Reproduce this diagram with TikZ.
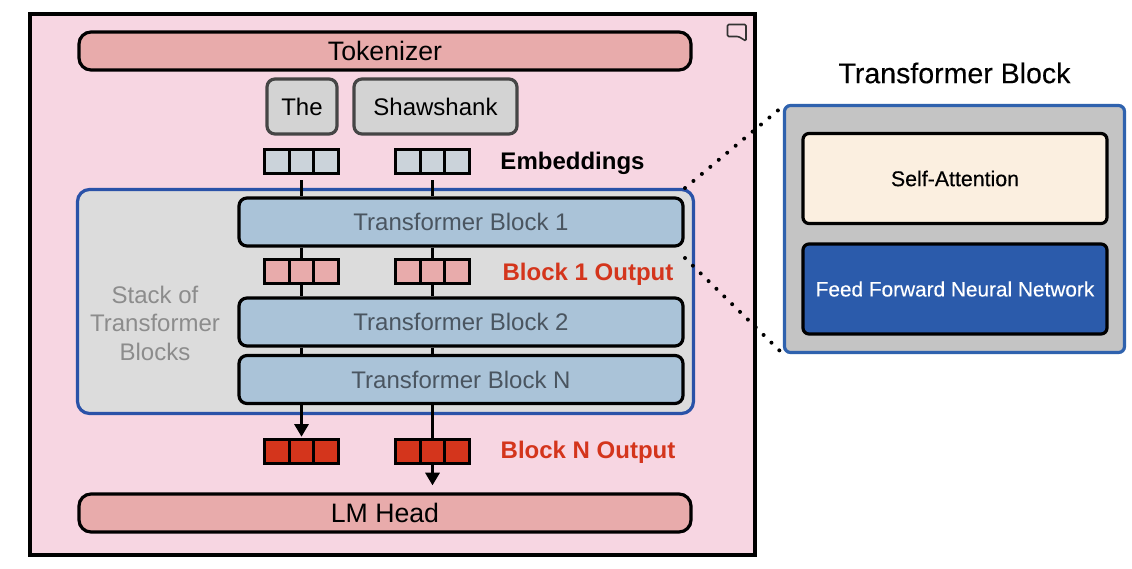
\documentclass[tikz,border=0pt]{standalone}
\usepackage{fontspec}
\setmainfont{Liberation Sans}
\usetikzlibrary{arrows.meta}
\definecolor{pinkbg}{HTML}{F7D6E2}
\definecolor{rosebar}{HTML}{E8ABAB}
\definecolor{tokgrey}{HTML}{D3D3D3}
\definecolor{tokedge}{HTML}{454545}
\definecolor{embcell}{HTML}{CBD3DA}
\definecolor{stackbg}{HTML}{DCDCDC}
\definecolor{stackblue}{HTML}{2A52A8}
\definecolor{blockblue}{HTML}{AAC3D8}
\definecolor{blocktext}{HTML}{4A5560}
\definecolor{redout}{HTML}{D4351C}
\definecolor{greytext}{HTML}{8C8C8C}
\definecolor{panelbg}{HTML}{C4C4C4}
\definecolor{paneledge}{HTML}{2F62AE}
\definecolor{cream}{HTML}{FBEFE0}
\definecolor{ffblue}{HTML}{2B5BAB}
\newfontfamily\semibold[FakeBold=0.25]{Liberation Sans}
\newcommand{\pxfont}[1]{\fontsize{#1}{#1}\selectfont}
\tikzset{
  x=0.75pt,y=-0.75pt,
  barbox/.style={draw=black,line width=2.4pt,rounded corners=9pt,fill=rosebar,minimum width=459pt,minimum height=28.5pt,inner sep=0pt,font=\pxfont{20pt}},
  tokbox/.style={draw=tokedge,line width=2.4pt,rounded corners=6pt,fill=tokgrey,minimum height=41.25pt,inner sep=0pt,font=\pxfont{18pt}},
  cellbox/.style={draw=black,line width=2pt,minimum width=18.4pt,minimum height=17.6pt,inner sep=0pt,outer sep=0pt},
  blockbox/.style={draw=black,line width=2.4pt,rounded corners=6pt,fill=blockblue,minimum width=333pt,minimum height=36pt,inner sep=0pt,text=blocktext,font=\pxfont{18pt}},
  innerbox/.style={draw=black,line width=2.4pt,rounded corners=4.5pt,minimum width=228pt,minimum height=67.5pt,inner sep=0pt},
  conn/.style={draw=black,line width=2.25pt},
  arrowconn/.style={conn,-{Triangle[length=9.5pt,width=10.5pt]}},
  dotline/.style={draw=black,line width=3pt,line cap=round,dash pattern=on 0pt off 8.25pt},
  lab/.style={inner sep=0pt,font=\pxfont{18pt}\bfseries}
}
\newcommand{\vect}[4]{%
  \node[cellbox,fill=#4] (#1a) at (#2-24.5,#3) {};
  \node[cellbox,fill=#4] (#1b) at (#2,#3) {};
  \node[cellbox,fill=#4] (#1c) at (#2+24.5,#3) {};
}
\begin{document}
\begin{tikzpicture}
\useasboundingbox (0,0) rectangle (1132,568);
\fill[white] (0,0) rectangle (1132,568);
\node[draw=black,line width=2.4pt,fill=pinkbg,minimum width=543.75pt,minimum height=405.75pt,inner sep=0pt] (frame) at (392.5,284.5) {};
\draw[draw=black!80,line width=1.2pt,line join=round,rounded corners=1pt] (727.5,24.5) -- (746,24.5) -- (746,41) -- (738.5,36.5) -- (727.5,36.5) -- cycle;
\node[barbox] (tok) at (385,51) {Tokenizer};
\node[tokbox,minimum width=52.5pt] (the) at (302,106.5) {The};
\node[tokbox,minimum width=122.25pt] (shaw) at (435.5,106.5) {Shawshank};
\vect{ea}{301.5}{161.5}{embcell}
\vect{eb}{432.5}{161.5}{embcell}
\node[lab] (emb) at (572.5,163) {Embeddings};
\node[draw=stackblue,line width=2.4pt,rounded corners=9pt,fill=stackbg,minimum width=462pt,minimum height=168pt,inner sep=0pt] (stack) at (385.5,301.5) {};
\node[align=center,inner sep=0pt,text=greytext,font=\fontsize{18pt}{21.4pt}\selectfont] (stacklab) at (155,323) {Stack of\\Transformer\\Blocks};
\node[blockbox] (tb1) at (461,222) {Transformer Block 1};
\vect{oa}{301.5}{271.5}{rosebar}
\vect{ob}{432.5}{271.5}{rosebar}
\node[lab,text=redout] (out1) at (588,274) {Block 1 Output};
\node[blockbox] (tb2) at (461,322) {Transformer Block 2};
\node[blockbox] (tbn) at (461,379.5) {Transformer Block N};
\vect{na}{301.5}{451.5}{redout}
\vect{nb}{432.5}{451.5}{redout}
\node[lab,text=redout] (outn) at (588,452) {Block N Output};
\node[barbox] (lm) at (385,513) {LM Head};
% connectors
\draw[conn,shorten <=5.25pt] (eab.south) -- (tb1.north -| eab.south);
\draw[conn,shorten <=5.25pt] (ebb.south) -- (tb1.north -| ebb.south);
\draw[conn] (tb1.south -| oab.north) -- (oab.north);
\draw[conn] (tb1.south -| obb.north) -- (obb.north);
\draw[conn] (oab.south) -- (tb2.north -| oab.south);
\draw[conn] (obb.south) -- (tb2.north -| obb.south);
\draw[conn] (tb2.south -| oab.south) -- (tbn.north -| oab.south);
\draw[conn] (tb2.south -| obb.south) -- (tbn.north -| obb.south);
\draw[arrowconn,shorten >=2.25pt] (tbn.south -| nab.north) -- (nab.north);
\draw[conn] (tbn.south -| nbb.north) -- (nbb.north);
\draw[arrowconn,shorten >=5.25pt] (nbb.south) -- (lm.north -| nbb.south);
% right panel
\node[font=\semibold\pxfont{21.4pt},inner sep=0pt] (title) at (954.5,73) {Transformer Block};
\node[draw=paneledge,line width=2.4pt,rounded corners=4.5pt,fill=panelbg,minimum width=255pt,minimum height=185.25pt,inner sep=0pt] (panel) at (954.5,229) {};
\node[innerbox,fill=cream,font=\semibold\pxfont{16pt}] (self) at (955,178.5) {Self-Attention};
\node[innerbox,fill=ffblue,text=white,font=\semibold\pxfont{15.6pt}] (ff) at (955,289) {Feed Forward Neural Network};
% zoom guides
\coordinate (g1) at (685,188);
\coordinate (g2) at (782,107);
\coordinate (g3) at (685,258);
\coordinate (g4) at (782,353);
\draw[dotline] (g1) -- (g2);
\draw[dotline] (g3) -- (g4);
\end{tikzpicture}
\end{document}
